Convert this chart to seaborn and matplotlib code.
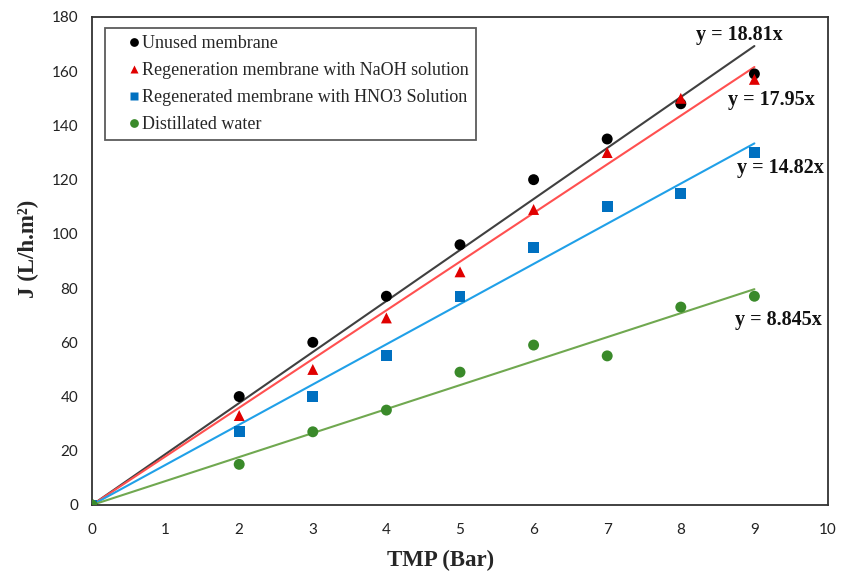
import matplotlib
matplotlib.use("Agg")
import matplotlib.pyplot as plt
import seaborn as sns
import pandas as pd
import numpy as np

tmp = [0, 2, 3, 4, 5, 6, 7, 8, 9]
unused = [0, 40, 60, 77, 96, 120, 135, 148, 159]
naoh = [0, 33, 50, 69, 86, 109, 130, 150, 157]
hno3 = [0, 27, 40, 55, 77, 95, 110, 115, 130]
water = [0, 15, 27, 35, 49, 59, 55, 73, 77]

series_names = ["Unused membrane",
                "Regeneration membrane with NaOH solution",
                "Regenerated membrane with HNO3 Solution",
                "Distillated water"]
slopes = [18.81, 17.95, 14.82, 8.845]
eq_labels = ["y = 18.81x", "y = 17.95x", "y = 14.82x", "y = 8.845x"]
xticks = [0, 1, 2, 3, 4, 5, 6, 7, 8, 9, 10]
yticks = [0, 20, 40, 60, 80, 100, 120, 140, 160, 180]

marker_colors = ["#000000", "#e00000", "#0070c0", "#3a8a2a"]
line_colors = ["#404040", "#ff5050", "#20a0e8", "#70a850"]
markers = ["o", "^", "s", "o"]

sns.set_theme(style="white")
plt.rcParams['font.family'] = ['Liberation Serif', 'DejaVu Serif']

df = pd.DataFrame({
    "TMP": tmp * 4,
    "J": unused + naoh + hno3 + water,
    "series": sum([[n] * len(tmp) for n in series_names], []),
})

fig = plt.figure(figsize=(8.43, 5.75), dpi=100)
ax = fig.add_axes([92/843, 1 - 505/575, 736/843, 488/575])

# fitted lines
for s, c in zip(slopes, line_colors):
    xs = np.array([0, 9])
    ax.plot(xs, s * xs, color=c, lw=1.5, zorder=2)

sns.scatterplot(data=df, x="TMP", y="J", hue="series", style="series",
                hue_order=series_names, style_order=series_names,
                palette=dict(zip(series_names, marker_colors)),
                markers=dict(zip(series_names, markers)),
                s=62, edgecolor="none", ax=ax, zorder=3)

ax.set_xlim(0, 10)
ax.set_ylim(0, 180)
ax.set_xticks(xticks)
ax.set_yticks(yticks)
ax.tick_params(axis='both', length=0, labelsize=11, colors="#222222")
ax.tick_params(axis='x', pad=13)
ax.tick_params(axis='y', pad=10)
for lab in ax.get_xticklabels() + ax.get_yticklabels():
    lab.set_fontfamily("Lato")
ax.set_xlabel("TMP (Bar)", fontsize=16.5, fontweight="bold")
ax.set_ylabel("J (L/h.m²)", fontsize=16.5, fontweight="bold")
ax.xaxis.set_label_coords(0.474, -0.092)
ax.yaxis.set_label_coords(-0.072, 0.525)
for sp in ax.spines.values():
    sp.set_color("#333333")
    sp.set_linewidth(1.3)

# equation labels
eq_pos = [(8.79, 173.4), (9.225, 149.4), (9.35, 124.3), (9.32, 68.2)]
for (x, y), t in zip(eq_pos, eq_labels):
    ax.text(x, y, t, fontsize=14.5, fontweight="bold", ha="center", va="center", color="#111111")

leg = ax.legend(loc="upper left", bbox_to_anchor=(0.0175, 0.977), frameon=True,
                fontsize=13, handletextpad=-0.72, borderpad=0.4, labelspacing=0.55,
                handlelength=2.4, markerscale=0.8, fancybox=False, title=None,
                borderaxespad=0)
leg.get_frame().set_edgecolor("#333333")
leg.get_frame().set_linewidth(1.3)

fig.savefig("out.png", dpi=100)
